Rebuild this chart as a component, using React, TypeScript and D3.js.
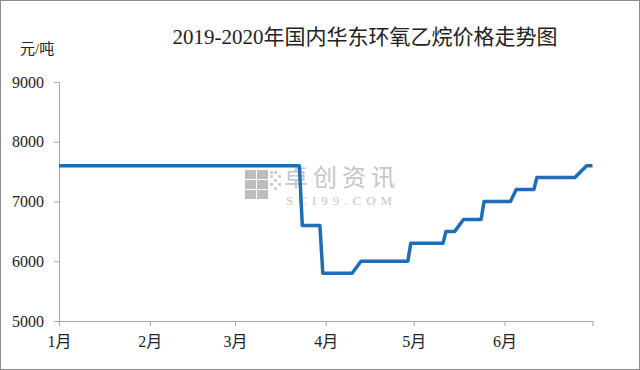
import React, { useEffect, useRef } from 'react'
import * as d3 from 'd3'

const title = '2019-2020年国内华东环氧乙烷价格走势图'
const unit = '元/吨'
const monthLabels = ['1月', '2月', '3月', '4月', '5月', '6月']
const yTicks = [5000, 6000, 7000, 8000, 9000]

// 华东环氧乙烷价格 (元/吨), 2020
const dates = [
  '2020-01-01', '2020-03-23', '2020-03-24', '2020-03-30', '2020-03-31',
  '2020-04-10', '2020-04-13', '2020-04-29', '2020-04-30', '2020-05-11',
  '2020-05-12', '2020-05-15', '2020-05-18', '2020-05-24', '2020-05-25',
  '2020-06-03', '2020-06-05', '2020-06-11', '2020-06-12', '2020-06-25',
  '2020-06-29', '2020-07-01',
]
const prices = [
  7600, 7600, 6600, 6600, 5800,
  5800, 6000, 6000, 6300, 6300,
  6500, 6500, 6700, 6700, 7000,
  7000, 7200, 7200, 7400, 7400,
  7600, 7600,
]

const W = 640
const H = 370
const serif = '"Liberation Serif", "DejaVu Serif", "Noto Sans CJK SC", serif'

export default function App() {
  const ref = useRef<SVGSVGElement>(null)

  useEffect(() => {
    const svg = d3.select(ref.current)
    svg.selectAll('*').remove()

    const left = 59, right = 592.5, top = 82, bottom = 321
    const parse = d3.timeParse('%Y-%m-%d')
    const data = dates.map((d, i) => ({ date: parse(d) as Date, value: prices[i] }))

    const x = d3.scaleTime()
      .domain([new Date(2020, 0, 1), new Date(2020, 6, 1)])
      .range([left, right])
    const y = d3.scaleLinear().domain([5000, 9000]).range([bottom, top])

    svg.append('rect')
      .attr('x', 0.5).attr('y', 0.5)
      .attr('width', W - 1).attr('height', H - 1)
      .attr('fill', '#fff').attr('stroke', '#8c8c8c')

    svg.append('text')
      .attr('x', 365).attr('y', 44)
      .attr('text-anchor', 'middle')
      .attr('font-family', serif).attr('font-size', 21)
      .attr('fill', '#222')
      .text(title)

    svg.append('text')
      .attr('x', 20).attr('y', 54)
      .attr('font-family', serif).attr('font-size', 15)
      .attr('fill', '#222')
      .text(unit)

    // watermark
    const wm = svg.append('g')
    const cells = [[0, 0], [1, 0], [0, 1], [1, 1], [0, 2], [1, 2]]
    cells.forEach(([cx, cy]) => {
      wm.append('rect')
        .attr('x', 245 + cx * 12).attr('y', 170 + cy * 10)
        .attr('width', 11).attr('height', 9)
        .attr('fill', '#bdbdbd')
    })
    const dots = [[0, 0], [1, 0], [0, 1], [2, 1], [1, 2], [0, 3], [2, 3], [1, 4]]
    dots.forEach(([cx, cy]) => {
      wm.append('rect')
        .attr('x', 270 + cx * 4).attr('y', 171 + cy * 4)
        .attr('width', 3).attr('height', 3)
        .attr('fill', '#cfcfcf')
    })
    wm.append('text')
      .attr('x', 284).attr('y', 186)
      .attr('font-family', '"Noto Sans CJK SC", sans-serif').attr('font-size', 24)
      .attr('letter-spacing', 5)
      .attr('fill', '#c6c6c6')
      .text('卓创资讯')
    wm.append('text')
      .attr('x', 286).attr('y', 205)
      .attr('font-family', serif).attr('font-size', 13)
      .attr('letter-spacing', 5)
      .attr('fill', '#c6c6c6')
      .text('SCI99.COM')

    const axisColor = '#a6a6a6'

    const yAxis = svg.append('g')
      .attr('transform', `translate(${left},0)`)
      .call(d3.axisLeft(y).tickValues(yTicks).tickSize(5).tickPadding(10).tickFormat(d3.format('d')))
    yAxis.select('.domain').attr('stroke', axisColor)
    yAxis.selectAll('.tick line').attr('stroke', axisColor)
    yAxis.selectAll('.tick text')
      .attr('font-family', serif).attr('font-size', 16).attr('fill', '#222')

    const monthDates = d3.range(0, 7).map(m => new Date(2020, m, 1))
    const xAxis = svg.append('g')
      .attr('transform', `translate(0,${bottom})`)
      .call(d3.axisBottom(x).tickValues(monthDates).tickSize(5).tickSizeOuter(0).tickPadding(10)
        .tickFormat((d, i) => monthLabels[i] ?? ''))
    xAxis.select('.domain').attr('stroke', axisColor)
    xAxis.selectAll('.tick line').attr('stroke', axisColor)
    xAxis.selectAll('.tick text')
      .attr('font-family', serif).attr('font-size', 16).attr('fill', '#222')

    const line = d3.line<{ date: Date; value: number }>()
      .x(d => x(d.date))
      .y(d => y(d.value))

    svg.append('path')
      .datum(data)
      .attr('d', line)
      .attr('fill', 'none')
      .attr('stroke', '#1f6db4')
      .attr('stroke-width', 3.5)
      .attr('stroke-linejoin', 'round')
  }, [])

  return (
    <div style={{ position: 'absolute', left: 0, top: 0 }}>
      <svg ref={ref} width={W} height={H} style={{ display: 'block' }} />
    </div>
  )
}
